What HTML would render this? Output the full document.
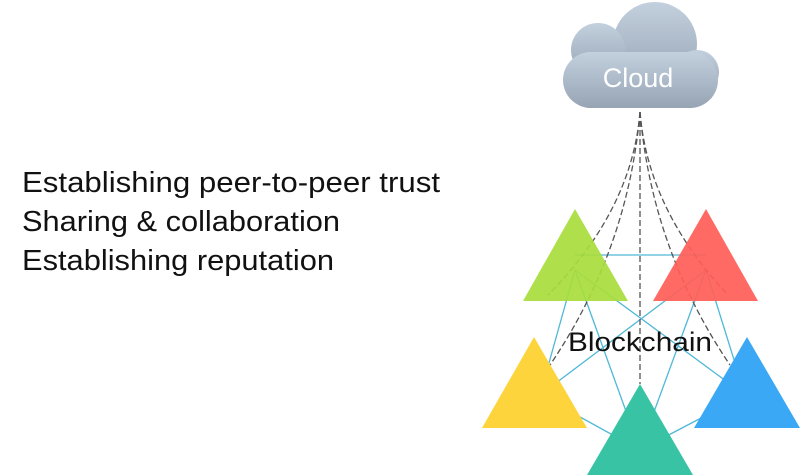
<!DOCTYPE html>
<html><head><meta charset="utf-8"><style>html,body{margin:0;padding:0;background:#fff}svg{display:block}</style></head>
<body>
<svg width="800" height="475" viewBox="0 0 800 475" xmlns="http://www.w3.org/2000/svg">
<defs>
<linearGradient id="cg" x1="0" y1="0" x2="0" y2="1">
<stop offset="0" stop-color="#c3d0de"/><stop offset="1" stop-color="#97a4b4"/>
</linearGradient>
</defs>
<g font-family="'Liberation Sans', sans-serif" font-size="29" fill="#111">
<text x="22" y="192" textLength="418" lengthAdjust="spacingAndGlyphs">Establishing peer-to-peer trust</text>
<text x="22" y="231" textLength="318" lengthAdjust="spacingAndGlyphs">Sharing &amp; collaboration</text>
<text x="22" y="270" textLength="312" lengthAdjust="spacingAndGlyphs">Establishing reputation</text>
</g>
<!-- cloud -->
<g fill="url(#cg)">
<circle cx="655" cy="44" r="42"/>
<circle cx="598" cy="50" r="27"/>
<circle cx="697" cy="72" r="22"/>
<circle cx="592" cy="80" r="28"/>
<rect x="563" y="52" width="155" height="56" rx="28"/>
</g>
<text x="638" y="87" font-family="'Liberation Sans', sans-serif" font-size="27" fill="#fff" text-anchor="middle">Cloud</text>
<!-- blue mesh -->
<g stroke="#4fb8d6" stroke-width="1.3" fill="none">
<line x1="575" y1="255" x2="706" y2="255"/>
<line x1="575" y1="270" x2="540" y2="395"/>
<line x1="706" y1="270" x2="745" y2="395"/>
<line x1="540" y1="395" x2="640" y2="450"/>
<line x1="745" y1="395" x2="640" y2="450"/>
<line x1="575" y1="270" x2="745" y2="395"/>
<line x1="706" y1="270" x2="540" y2="395"/>
<line x1="575" y1="270" x2="640" y2="450"/>
<line x1="706" y1="270" x2="640" y2="450"/>
</g>
<!-- dashed -->
<g stroke="#555" stroke-width="1.3" fill="none" stroke-dasharray="6,3">
<path d="M640 112 Q632 210 548 295"/>
<path d="M640 112 Q628 250 550 365"/>
<path d="M640 112 L640 384"/>
<path d="M640 112 Q648 210 728 295"/>
<path d="M640 112 Q652 250 730 365"/>
</g>
<!-- triangles -->
<polygon points="575,209 523,301 628,301" fill="#a8dc3c" opacity="0.92"/>
<polygon points="706,209 653,301 758,301" fill="#ff5e57" opacity="0.92"/>
<polygon points="534,337 482,428 587,428" fill="#fdd43c"/>
<polygon points="747,337 694,428 800,428" fill="#3aa8f5"/>
<polygon points="640,384 587,475 693,475" fill="#38c4a4"/>
<text x="568" y="351" font-family="'Liberation Sans', sans-serif" font-size="27" fill="#111" textLength="144" lengthAdjust="spacingAndGlyphs">Blockchain</text>
</svg>
</body></html>
